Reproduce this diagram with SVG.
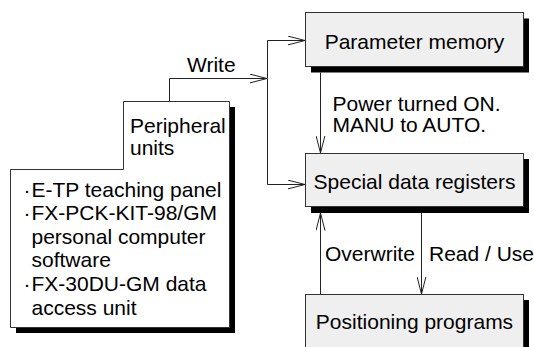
<svg xmlns="http://www.w3.org/2000/svg" width="534" height="347" viewBox="0 0 534 347">
<style>
text{font-family:"Liberation Sans",Arial,sans-serif;font-size:21px;fill:#000}
.box{fill:#efefef;stroke:#333;stroke-width:1}
.shadow{fill:#000}
.wbox{fill:#fff;stroke:#333;stroke-width:1}
.ln{fill:none;stroke:#222;stroke-width:1}
.mid{text-anchor:middle}
</style>
<defs>
<marker id="arr" viewBox="0 0 18 10" refX="17.5" refY="5" markerWidth="18" markerHeight="10" markerUnits="userSpaceOnUse" orient="auto">
<path d="M0,0.5 L17.5,5 L0,9.5" fill="none" stroke="#222" stroke-width="1"/>
</marker>
</defs>
<rect width="534" height="347" fill="#fff"/>
<g id="peripheral">
<path class="shadow" d="M16,333 V175 H129 V107 H235 V333 Z"/>
<path class="wbox" d="M10.5,327.5 V169.5 H123.5 V101.5 H229.5 V327.5 Z"/>
<text x="130" y="133">Peripheral</text>
<text x="130" y="155">units</text>
<text x="23.5" y="197">·</text>
<text x="31.5" y="197">E-TP teaching panel</text>
<text x="23.5" y="220">·</text>
<text x="31.5" y="220">FX-PCK-KIT-98/GM</text>
<text x="31.5" y="244">personal computer</text>
<text x="31.5" y="267">software</text>
<text x="23.5" y="291">·</text>
<text x="31.5" y="291">FX-30DU-GM data</text>
<text x="31.5" y="315">access unit</text>
</g>
<g id="param">
<rect class="shadow" x="311" y="18.5" width="218" height="54"/>
<rect class="box" x="305.5" y="12.5" width="218" height="54"/>
<text class="mid" x="414.5" y="49">Parameter memory</text>
</g>
<g id="sdr">
<rect class="shadow" x="311" y="159" width="218" height="54"/>
<rect class="box" x="305.5" y="153.5" width="218" height="53"/>
<text class="mid" x="414.5" y="188.5">Special data registers</text>
</g>
<g id="pos">
<rect class="shadow" x="311" y="300" width="218" height="60"/>
<rect class="box" x="305.5" y="294.5" width="218" height="70"/>
<text class="mid" x="414.5" y="328.5">Positioning programs</text>
</g>
<g id="connectors">
<path class="ln" d="M169.5,101.5 V78.5 H267" marker-end="url(#arr)"/>
<path class="ln" d="M267.5,78.5 V40.5 H305" marker-end="url(#arr)"/>
<path class="ln" d="M267.5,78.5 V184.5 H305" marker-end="url(#arr)"/>
<path class="ln" d="M320.5,72.5 V153" marker-end="url(#arr)"/>
<path class="ln" d="M320.5,294 V213" marker-end="url(#arr)"/>
<path class="ln" d="M421.5,213 V294" marker-end="url(#arr)"/>
<text x="187" y="72">Write</text>
<text x="332.5" y="110.5">Power turned ON.</text>
<text x="332.5" y="132">MANU to AUTO.</text>
<text x="325" y="261">Overwrite</text>
<text x="429" y="261">Read / Use</text>
</g>
</svg>
